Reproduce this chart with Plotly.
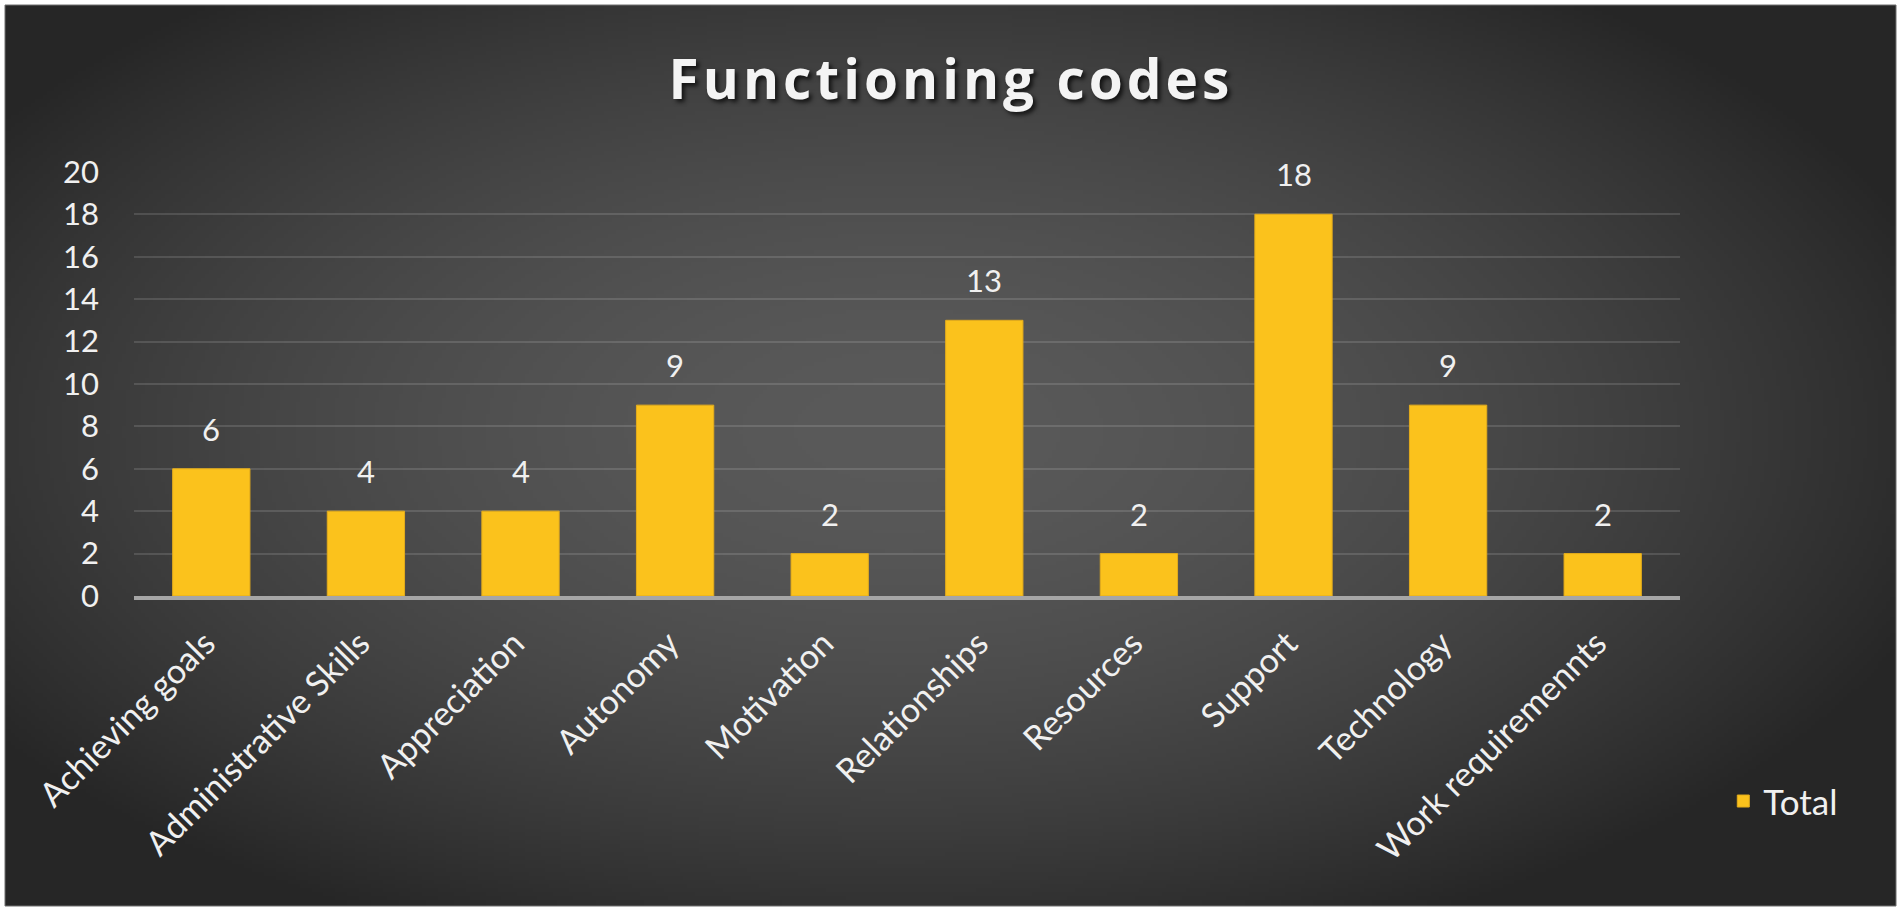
import base64
import struct
import zlib

import numpy as np
import plotly.graph_objects as go

# chart data
categories = [
    "Achieving goals",
    "Administrative Skills",
    "Appreciation",
    "Autonomy",
    "Motivation",
    "Relationships",
    "Resources",
    "Support",
    "Technology",
    "Work requiremennts",
]
totals = [6, 4, 4, 9, 2, 13, 2, 18, 9, 2]
y_ticks = [0, 2, 4, 6, 8, 10, 12, 14, 16, 18, 20]

W, H = 1902, 914
M = {"l": 134, "r": 222, "t": 171, "b": 318}
FONT = "Lato"
TEXT = "#f0f0f0"
BAR = "#fbc21c"

# frame (dark panel) in pixels
FX0, FY0, FX1, FY1 = 5, 5, 1896, 906


def png_uri(arr):
    """Encode an RGB uint8 array as a PNG data URI."""
    h, w, _ = arr.shape
    raw = b"".join(b"\x00" + arr[i].tobytes() for i in range(h))

    def chunk(tag, data):
        c = struct.pack(">I", len(data)) + tag + data
        return c + struct.pack(">I", zlib.crc32(tag + data) & 0xFFFFFFFF)

    png = (
        b"\x89PNG\r\n\x1a\n"
        + chunk(b"IHDR", struct.pack(">IIBBBBB", w, h, 8, 2, 0, 0, 0))
        + chunk(b"IDAT", zlib.compress(raw, 9))
        + chunk(b"IEND", b"")
    )
    return "data:image/png;base64," + base64.b64encode(png).decode()


# radial dark-grey background like the Office chart style
gw, gh = 478, 226
xs = np.linspace(FX0, FX1, gw)
ys = np.linspace(FY0, FY1, gh)
gx, gy = np.meshgrid(xs, ys)
d = np.sqrt(((gx - 900) / 1100) ** 2 + ((gy - 430) / 560) ** 2)
d = np.clip(d, 0, 1) ** 1.7
shade = 90 - (90 - 38) * d
bg = np.repeat(shade[:, :, None], 3, axis=2).astype(np.uint8)

pw = W - M["l"] - M["r"]
ph = H - M["t"] - M["b"]


def px_to_paper(x, y):
    return (x - M["l"]) / pw, (H - M["b"] - y) / ph


x0p, y0p = px_to_paper(FX0, FY0)
x1p, y1p = px_to_paper(FX1, FY1)

fig = go.Figure()

fig.add_trace(
    go.Bar(
        name="Total",
        x=categories,
        y=totals,
        marker={"color": BAR, "line": {"color": "#e3ac1c", "width": 1}},
        hoverinfo="x+y",
    )
)

# value labels above bars
for cat, val in zip(categories, totals):
    fig.add_annotation(
        x=cat,
        y=val,
        text=str(val),
        showarrow=False,
        yanchor="middle",
        yshift=40,
        font={"family": FONT, "size": 31, "color": TEXT},
    )

fig.add_layout_image(
    source=png_uri(bg),
    xref="paper",
    yref="paper",
    x=x0p,
    y=y0p,
    sizex=x1p - x0p,
    sizey=y0p - y1p,
    xanchor="left",
    yanchor="top",
    sizing="stretch",
    layer="below",
)

fig.add_shape(
    type="rect",
    xref="paper",
    yref="paper",
    x0=x0p,
    y0=y1p,
    x1=x1p,
    y1=y0p,
    line={"color": "#6e6e6e", "width": 1},
    fillcolor="rgba(0,0,0,0)",
    layer="below",
)

fig.update_layout(
    width=W,
    height=H,
    margin=M,
    paper_bgcolor="white",
    plot_bgcolor="rgba(0,0,0,0)",
    bargap=0.5,
    title={
        "text": "Functioning codes",
        "x": 0.5,
        "xref": "container",
        "xanchor": "center",
        "y": 1 - 80 / H,
        "yref": "container",
        "yanchor": "middle",
        "font": {
            "family": "Open Sans",
            "size": 55,
            "color": "#f4f4f4",
            "weight": 700,
            "shadow": "3px 3px 4px rgba(0,0,0,0.7)",
        },
    },
    xaxis={
        "showgrid": False,
        "showline": True,
        "linecolor": "#a6a6a6",
        "linewidth": 4,
        "tickangle": -45,
        "ticks": "",
        "ticklabelshift": -6,
        "ticklabelstandoff": 10,
        "tickfont": {"family": FONT, "size": 34, "color": TEXT},
        "automargin": False,
        "fixedrange": True,
    },
    yaxis={
        "range": [0, 20.04],
        "tickvals": y_ticks,
        "showgrid": True,
        "gridcolor": "rgba(255,255,255,0.13)",
        "gridwidth": 2,
        "zeroline": False,
        "showline": False,
        "ticks": "",
        "ticklabelstandoff": 34,
        "tickfont": {"family": FONT, "size": 31, "color": TEXT},
        "automargin": False,
        "fixedrange": True,
    },
    showlegend=True,
    legend={
        "x": 1.028,
        "y": -0.483,
        "xanchor": "left",
        "yanchor": "middle",
        "bgcolor": "rgba(0,0,0,0)",
        "font": {"family": FONT, "size": 35, "color": TEXT},
    },
)

# the Office title has wide letter spacing
fig.write_html(
    "out.html",
    config={"displayModeBar": False},
    post_script=(
        "document.body.style.margin='0';document.body.style.overflow='hidden';"
        "document.querySelectorAll('.gtitle').forEach(function(t){t.style.letterSpacing='4px';});"
    ),
)
